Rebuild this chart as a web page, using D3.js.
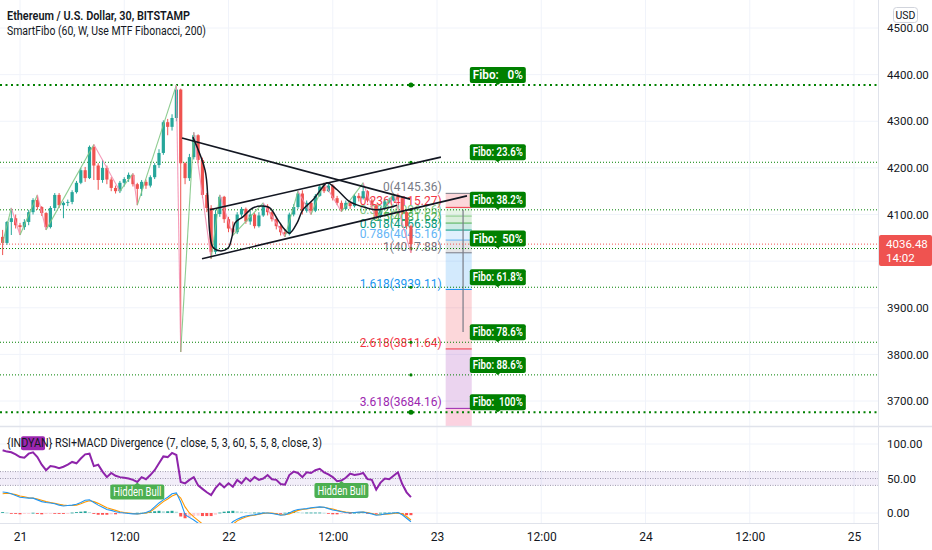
<!DOCTYPE html>
<html>
<head>
<meta charset="utf-8">
<script src="https://cdn.jsdelivr.net/npm/d3@7"></script>
<style>
  body { margin: 0; background: #ffffff; }
  svg { display: block; font-family: "Liberation Sans Narrow", "Roboto", "Liberation Sans", sans-serif; }
  text { white-space: pre; }
</style>
</head>
<body>
<div id="wrapper"></div>
<script>
// ETH/USD 30 min bars from Bitstamp, first bar = 20 Dec 22:00 UTC
const barStart = Date.UTC(2021, 11, 20, 22, 0);
const firstOpen = 4052;
const closes = [4039, 4084, 4092, 4077, 4073, 4084, 4105, 4131, 4116, 4103,
    4073, 4114, 4142, 4120, 4125, 4127, 4148, 4168, 4195, 4178,
    4245, 4205, 4174, 4200, 4175, 4157, 4150, 4168, 4176, 4185,
    4165, 4155, 4170, 4162, 4180, 4206, 4232, 4298, 4288, 4307,
    4368, 4210, 4178, 4223, 4270, 4217, 4142, 4114, 4020, 4101,
    4138, 4090, 4070, 4062, 4100, 4112, 4085, 4100, 4075, 4098,
    4118, 4105, 4090, 4075, 4062, 4058, 4100, 4116, 4145, 4108,
    4125, 4108, 4140, 4160, 4150, 4162, 4135, 4125, 4112, 4125,
    4118, 4140, 4135, 4150, 4130, 4120, 4095, 4112, 4128, 4130,
    4142, 4135, 4105, 4075, 4036.48];
const highs = [4067, 4086, 4114, 4100, 4082, 4090, 4110, 4135, 4142, 4118,
    4105, 4118, 4146, 4146, 4128, 4132, 4152, 4172, 4200, 4202,
    4248, 4250, 4210, 4217, 4205, 4180, 4162, 4172, 4180, 4190,
    4188, 4168, 4174, 4175, 4184, 4210, 4240, 4302, 4305, 4315,
    4378, 4370, 4212, 4230, 4276, 4272, 4222, 4146, 4120, 4110,
    4142, 4140, 4095, 4085, 4105, 4116, 4115, 4108, 4103, 4105,
    4125, 4122, 4108, 4095, 4080, 4068, 4104, 4122, 4150, 4152,
    4130, 4128, 4144, 4164, 4168, 4166, 4165, 4140, 4130, 4130,
    4128, 4144, 4146, 4168, 4152, 4134, 4122, 4116, 4132, 4136,
    4145, 4145, 4138, 4108, 4078];
const lows = [4013, 4035, 4056, 4070, 4056, 4067, 4077, 4100, 4110, 4097,
    4067, 4070, 4108, 4114, 4092, 4118, 4122, 4145, 4165, 4170,
    4176, 4174, 4153, 4168, 4165, 4150, 4145, 4146, 4160, 4170,
    4160, 4120, 4140, 4155, 4158, 4176, 4200, 4228, 4270, 4280,
    4300, 3805, 4165, 4172, 4218, 4210, 4135, 4105, 4005, 4015,
    4095, 4082, 4062, 4055, 4058, 4095, 4080, 4078, 4070, 4072,
    4095, 4098, 4085, 4068, 4055, 4052, 4055, 4096, 4112, 4100,
    4104, 4100, 4105, 4138, 4146, 4148, 4130, 4120, 4106, 4110,
    4112, 4115, 4128, 4132, 4126, 4115, 4090, 4092, 4110, 4124,
    4128, 4130, 4100, 4068, 4017.88];

// lower pane: RSI(7) and MACD(5, 8, 3)
const rsiValues = [91, 89, 88, 85, 81, 80, 86, 88, 81, 70,
    62, 68, 67, 65, 67, 70, 74, 72, 79, 85,
    86, 68, 70, 60, 52, 58, 54, 52, 51, 50,
    48, 45, 52, 49, 55, 62, 72, 82, 81, 87,
    84, 45, 43, 48, 52, 40, 35, 30, 26, 36,
    43, 37, 43, 38, 48, 43, 51, 46, 52, 48,
    50, 55, 49, 48, 42, 41, 55, 60, 58, 52,
    59, 58, 62, 64, 59, 56, 52, 46, 47, 51,
    57, 55, 56, 58, 49, 48, 34, 44, 50, 49,
    54, 59, 42, 30, 23];
const macdValues = [24, 23.5, 22, 20, 18, 17.5, 17, 17, 15, 13,
    12, 11.5, 10.5, 9, 8, 8.5, 9, 10, 12, 14.5,
    15, 12, 9, 6.5, 4, 3, 1.5, 0.5, 0, -0.5,
    -1, -1, -0.5, 0.5, 2.5, 7, 11.5, 15, 18, 22,
    23, 12.6, -2, -5, -8, -11.5, -16, -20, -24, -25,
    -23, -20, -15, -10, -7, -5, -3.5, -2.5, -2, -1,
    0, 0, -0.5, -1.5, -2.5, -2, 0, 2.5, 4, 4.5,
    5, 6, 6.5, 7, 6.5, 5, 3.5, 2.5, 1.5, 0.5,
    0, 0.5, 1, 1, 0, -1, -2.5, -2, -1, -0.5,
    0, 0.5, -2, -6, -10];
const signalValues = [22, 22.5, 22, 21, 19.5, 18.5, 17.5, 17, 16, 14.5,
    13, 12, 11, 10, 9, 8.5, 8.5, 9, 10.5, 12.5,
    14, 13, 11, 8.5, 6, 4.5, 3, 1.5, 0.5, 0,
    -0.5, -1, -0.5, 0, 1.5, 5, 9, 13, 16, 19.5,
    21.5, 17, 7, 0, -4.5, -8.5, -12.5, -16.5, -20.5, -23,
    -23.5, -21.5, -17.5, -13, -9, -6.5, -4.5, -3, -2.5, -1.5,
    -0.5, 0, 0, -1, -2, -2, -1, 1, 3, 4,
    4.5, 5.5, 6, 6.5, 6.5, 5.5, 4.5, 3, 2, 1,
    0.5, 0.5, 0.5, 1, 0.5, -0.5, -2, -2, -1.5, -1,
    -0.5, 0, -1, -4, -8];
const histValues = [1, 0.5, -0.5, -1, -1.5, -1, -0.5, 0.3, -1, -1.5,
    -1, -0.5, -0.5, -1, -1, -0.3, 0.5, 1, 1.5, 2,
    1, -1, -2, -2, -2, -1.5, -1.5, -1, -0.5, -0.5,
    -0.5, 0.3, 0.3, 0.5, 1, 2, 2.5, 2, 2, 2.5,
    1.5, -4, -6, -5, -3.5, -3, -3.5, -3.5, -3.5, -2,
    0.5, 1.5, 2, 2.5, 2, 1.5, 1, 0.5, 0.5, 0.5,
    0.5, 0.3, -0.5, -0.5, -0.5, 0.3, 1, 1.5, 1, 0.5,
    0.5, 0.5, 0.5, 0.5, 0.3, -0.5, -1.5, -1.5, -1, -0.5,
    -0.5, 0.3, 0.5, 0.3, -0.5, -0.5, -0.5, 0.3, 0.5, 0.5,
    0.5, 0.5, -1, -2.5, -2.5];
const divergenceLabels = [{ bar: 31, text: "Hidden Bull" }, { bar: 78, text: "Hidden Bull" }];
const bearLabelBar = 7;

// drawings: [bar index, price]
const zigzagPivots = [[0, 4039], [2, 4114], [4, 4056], [8, 4142], [10, 4067], [21, 4250], [27, 4150],
    [30, 4188], [31, 4120], [40, 4378], [41, 3805], [44, 4276], [48, 4005], [50, 4142], [53, 4055],
    [60, 4125], [65, 4052], [68, 4150], [71, 4100], [74, 4168], [78, 4106], [83, 4168], [86, 4090],
    [90, 4145], [94, 4018]];
const smoothCurve = [[43.8, 4266], [46.6, 4195], [47.3, 4125], [47.7, 4060], [48.4, 4030], [50.0, 4022],
    [51.9, 4028], [52.8, 4052], [53.5, 4082], [55.3, 4095], [57.6, 4114], [59.9, 4118], [61.5, 4114],
    [63.4, 4088], [65.0, 4067], [66.1, 4060], [67.8, 4082], [69.1, 4110], [71.4, 4131], [73.7, 4159],
    [74.7, 4168], [77, 4153], [80, 4127], [83.9, 4114], [86.2, 4110], [88.5, 4114], [90.8, 4120]];
const trendLines = [[[41.3, 4264], [93.8, 4133]], [[47.7, 4110], [100.9, 4223]], [[45.9, 4005], [106.9, 4140]]];

// fib retracement drawing
const fibRatios = ["0", "0.236", "0.382", "0.5", "0.618", "0.786", "1", "1.618", "2.618", "3.618", "4.236"];
const fibPrices = [4145.36, 4115.27, 4096.66, 4081.62, 4066.58, 4045.16, 4017.88, 3939.11, 3811.64, 3684.16, 3605.36];
const fibColors = ["#787b86", "#f23645", "#81c784", "#4caf50", "#089981", "#64b5f6", "#787b86", "#2196f3", "#f23645", "#9c27b0", "#e91e63"];
const fibBars = [102, 108];
const fibTrend = [[106, 4110], [106, 3848]];

// SmartFibo weekly levels
const smartFiboPrices = [4378, 4212, 4110, 4027, 3944, 3826, 3756, 3676];
const smartFiboLabels = ["Fibo:   0%", "Fibo: 23.6%", "Fibo: 38.2%", "Fibo:  50%", "Fibo: 61.8%", "Fibo: 78.6%", "Fibo: 88.6%", "Fibo:  100%"];
const smartFiboLabelBar = 114;

const gridPrices = [3700, 3800, 3900, 4000, 4100, 4200, 4300, 4400, 4500];
const priceTicks = [3700, 3800, 3900, 4100, 4200, 4300, 4400, 4500];
const rsiTicks = [0, 50, 100];
const rsiBand = [40, 50, 60];
const timeTicks = [Date.UTC(2021, 11, 21, 0), Date.UTC(2021, 11, 21, 12), Date.UTC(2021, 11, 22, 0),
    Date.UTC(2021, 11, 22, 12), Date.UTC(2021, 11, 23, 0), Date.UTC(2021, 11, 23, 12),
    Date.UTC(2021, 11, 24, 0), Date.UTC(2021, 11, 24, 12), Date.UTC(2021, 11, 25, 0)];
const lastPrice = 4036.48;
const barCountdown = "14:02";

function buildChart() {
    const dimension = {
        width: 932, height: 550,
        plotRight: 878, mainBottom: 426, subTop: 427, subBottom: 523
    };
    const up = "#26a69a", down = "#ef5350", ink = "#131722", fiboGreen = "#008000";

    const svg = d3.select("#wrapper").append("svg")
        .attr("width", dimension.width)
        .attr("height", dimension.height);

    const barTime = i => new Date(barStart + i * 1800000);
    const xScaler = d3.scaleUtc()
        .domain([new Date(timeTicks[0]), new Date(timeTicks[timeTicks.length - 1])])
        .range([20, 854]);
    const xBar = i => xScaler(barTime(i));
    const yScaler = d3.scaleLinear().domain([3700, 4500]).range([401, 28]);
    const rsiScaler = d3.scaleLinear().domain([0, 100]).range([513, 444]);
    const macdScaler = d3.scaleLinear().domain([0, 24]).range([513, 492]);

    const defs = svg.append("defs");
    defs.append("clipPath").attr("id", "clipMain").append("rect")
        .attr("x", 0).attr("y", 0).attr("width", dimension.plotRight).attr("height", dimension.mainBottom);
    defs.append("clipPath").attr("id", "clipSub").append("rect")
        .attr("x", 0).attr("y", dimension.subTop)
        .attr("width", dimension.plotRight).attr("height", dimension.subBottom - dimension.subTop);

    // grid
    svg.append("g").selectAll("line").data(timeTicks).join("line")
        .attr("x1", d => xScaler(new Date(d))).attr("x2", d => xScaler(new Date(d)))
        .attr("y1", 0).attr("y2", dimension.subBottom)
        .attr("stroke", "#f0f3fa");
    svg.append("g").selectAll("line").data(gridPrices).join("line")
        .attr("x1", 0).attr("x2", dimension.plotRight)
        .attr("y1", d => yScaler(d)).attr("y2", d => yScaler(d))
        .attr("stroke", "#f0f3fa");

    const main = svg.append("g").attr("clip-path", "url(#clipMain)");

    // fib retracement tool
    const fx0 = xBar(fibBars[0]), fx1 = xBar(fibBars[1]);
    main.append("g").selectAll("rect").data(fibPrices.slice(1)).join("rect")
        .attr("x", fx0).attr("width", fx1 - fx0)
        .attr("y", (d, k) => yScaler(fibPrices[k]))
        .attr("height", (d, k) => yScaler(d) - yScaler(fibPrices[k]))
        .attr("fill", (d, k) => fibColors[k + 1]).attr("fill-opacity", 0.2);
    main.append("g").selectAll("line").data(fibPrices).join("line")
        .attr("x1", fx0).attr("x2", fx1)
        .attr("y1", d => yScaler(d)).attr("y2", d => yScaler(d))
        .attr("stroke", (d, k) => fibColors[k]).attr("stroke-width", 1);
    main.append("g").selectAll("text").data(fibPrices).join("text")
        .attr("x", fx0 - 4).attr("y", d => yScaler(d) - 2)
        .attr("text-anchor", "end").attr("font-size", 12)
        .attr("fill", (d, k) => fibColors[k])
        .text((d, k) => `${fibRatios[k]}(${d.toFixed(2)})`);
    main.append("line")
        .attr("x1", xBar(fibTrend[0][0])).attr("x2", xBar(fibTrend[1][0]))
        .attr("y1", yScaler(fibTrend[0][1])).attr("y2", yScaler(fibTrend[1][1]))
        .attr("stroke", "#787b86").attr("stroke-width", 1.2);

    // SmartFibo dotted levels
    main.append("g").selectAll("line").data(smartFiboPrices).join("line")
        .attr("x1", 0).attr("x2", dimension.plotRight)
        .attr("y1", d => yScaler(d)).attr("y2", d => yScaler(d))
        .attr("stroke", fiboGreen)
        .attr("stroke-width", (d, k) => (k === 0 || k === smartFiboPrices.length - 1) ? 2 : 1)
        .attr("stroke-dasharray", (d, k) => (k === 0 || k === smartFiboPrices.length - 1) ? "2,3.5" : "1,2");
    main.append("g").selectAll("circle").data(smartFiboPrices).join("circle")
        .attr("cx", xBar(closes.length - 1)).attr("cy", d => yScaler(d))
        .attr("r", (d, k) => (k === 0 || k === smartFiboPrices.length - 1) ? 2.5 : 1.6)
        .attr("fill", fiboGreen);

    // last price line
    main.append("line")
        .attr("x1", 0).attr("x2", dimension.plotRight)
        .attr("y1", yScaler(lastPrice)).attr("y2", yScaler(lastPrice))
        .attr("stroke", down).attr("stroke-dasharray", "1,2");

    // candles
    const bars = closes.map((c, i) => ({ i, o: i === 0 ? firstOpen : closes[i - 1], h: highs[i], l: lows[i], c }));
    const candle = main.append("g").selectAll("g").data(bars).join("g");
    candle.append("line")
        .attr("x1", d => xBar(d.i)).attr("x2", d => xBar(d.i))
        .attr("y1", d => yScaler(d.h)).attr("y2", d => yScaler(d.l))
        .attr("stroke", d => d.c >= d.o ? up : down).attr("stroke-width", 1);
    candle.append("rect")
        .attr("x", d => xBar(d.i) - 1.6).attr("width", 3.2)
        .attr("y", d => yScaler(Math.max(d.o, d.c)))
        .attr("height", d => Math.max(1, Math.abs(yScaler(d.o) - yScaler(d.c))))
        .attr("fill", d => d.c >= d.o ? up : down);

    // zigzag
    const zz = d3.pairs(zigzagPivots);
    main.append("g").selectAll("line").data(zz).join("line")
        .attr("x1", d => xBar(d[0][0])).attr("y1", d => yScaler(d[0][1]))
        .attr("x2", d => xBar(d[1][0])).attr("y2", d => yScaler(d[1][1]))
        .attr("stroke", d => d[1][1] > d[0][1] ? "#81c784" : "#f48fb1")
        .attr("stroke-width", 1.1).attr("stroke-opacity", 0.9);

    // smoothed black line
    const curveGen = d3.line()
        .x(d => xBar(d[0])).y(d => yScaler(d[1]))
        .curve(d3.curveCatmullRom.alpha(0.5));
    main.append("path").attr("d", curveGen(smoothCurve))
        .attr("fill", "none").attr("stroke", ink).attr("stroke-width", 1.5);

    // trend lines
    main.append("g").selectAll("line").data(trendLines).join("line")
        .attr("x1", d => xBar(d[0][0])).attr("y1", d => yScaler(d[0][1]))
        .attr("x2", d => xBar(d[1][0])).attr("y2", d => yScaler(d[1][1]))
        .attr("stroke", ink).attr("stroke-width", 1.6);

    // SmartFibo labels
    const lx = xBar(smartFiboLabelBar);
    const fl = main.append("g").selectAll("g").data(smartFiboPrices).join("g");
    const flText = fl.append("text")
        .attr("x", lx).attr("y", d => yScaler(d) - 6)
        .attr("text-anchor", "middle").attr("font-size", 12).attr("font-weight", 600)
        .attr("fill", "#ffffff")
        .text((d, k) => smartFiboLabels[k]);
    flText.each(function () {
        if (this.getComputedTextLength() > 50) d3.select(this).attr("textLength", 50).attr("lengthAdjust", "spacingAndGlyphs");
    });
    fl.insert("rect", "text")
        .attr("x", function () { return lx - Math.min(50, this.parentNode.querySelector("text").getComputedTextLength()) / 2 - 3; })
        .attr("width", function () { return Math.min(50, this.parentNode.querySelector("text").getComputedTextLength()) + 6; })
        .attr("y", d => yScaler(d) - 18).attr("height", 16).attr("rx", 2)
        .attr("fill", fiboGreen);
    fl.insert("path", "text")
        .attr("d", d => `M${lx - 3},${yScaler(d) - 2.5}L${lx},${yScaler(d)}L${lx + 3},${yScaler(d) - 2.5}Z`)
        .attr("fill", fiboGreen);

    // lower pane
    const sub = svg.append("g").attr("clip-path", "url(#clipSub)");
    sub.append("rect")
        .attr("x", 0).attr("width", dimension.plotRight)
        .attr("y", rsiScaler(rsiBand[2])).attr("height", rsiScaler(rsiBand[0]) - rsiScaler(rsiBand[2]))
        .attr("fill", "#7e57c2").attr("fill-opacity", 0.1);
    sub.append("g").selectAll("line").data(rsiBand).join("line")
        .attr("x1", 0).attr("x2", dimension.plotRight)
        .attr("y1", d => rsiScaler(d)).attr("y2", d => rsiScaler(d))
        .attr("stroke", "#9e9aae").attr("stroke-dasharray", "1,1.5");
    sub.append("g").selectAll("line").data([0, 100]).join("line")
        .attr("x1", 0).attr("x2", dimension.plotRight)
        .attr("y1", d => rsiScaler(d)).attr("y2", d => rsiScaler(d))
        .attr("stroke", "#f0f3fa");

    sub.append("g").selectAll("rect").data(histValues).join("rect")
        .attr("x", (d, i) => xBar(i) - 1.5).attr("width", 3)
        .attr("y", d => macdScaler(Math.max(0, d)))
        .attr("height", d => Math.max(0.8, Math.abs(macdScaler(d) - macdScaler(0))))
        .attr("fill", (d, i) => {
            const prev = i > 0 ? histValues[i - 1] : d;
            if (d >= 0) return d >= prev ? "#26a69a" : "#b2dfdb";
            return d <= prev ? "#ff5252" : "#ffcdd2";
        });
    const macdLine = d3.line().x((d, i) => xBar(i)).y(d => macdScaler(d));
    sub.append("path").attr("d", macdLine(signalValues))
        .attr("fill", "none").attr("stroke", "#ff9800").attr("stroke-width", 1.1);
    sub.append("path").attr("d", macdLine(macdValues))
        .attr("fill", "none").attr("stroke", "#2196f3").attr("stroke-width", 1.1);

    const rsiLine = d3.line().x((d, i) => xBar(i)).y(d => rsiScaler(d));
    sub.append("path").attr("d", rsiLine(rsiValues))
        .attr("fill", "none").attr("stroke", "#8e24aa").attr("stroke-width", 2);

    // bear label box behind the title
    const bx = xBar(bearLabelBar), by = rsiScaler(rsiValues[bearLabelBar]);
    sub.append("rect")
        .attr("x", bx - 12).attr("width", 24)
        .attr("y", by - 16).attr("height", 14).attr("rx", 2)
        .attr("fill", "#9c27b0");

    const dl = sub.append("g").selectAll("g").data(divergenceLabels).join("g");
    dl.append("path")
        .attr("d", d => {
            const x = xBar(d.bar), y = rsiScaler(rsiValues[d.bar]);
            return `M${x - 3},${y + 3}L${x},${y + 0.5}L${x + 3},${y + 3}Z`;
        })
        .attr("fill", "#4caf50");
    dl.append("rect")
        .attr("x", d => xBar(d.bar) - 27).attr("width", 54)
        .attr("y", d => rsiScaler(rsiValues[d.bar]) + 2.5).attr("height", 15).attr("rx", 2)
        .attr("fill", "#4caf50");
    dl.append("text")
        .attr("x", d => xBar(d.bar)).attr("y", d => rsiScaler(rsiValues[d.bar]) + 14)
        .attr("text-anchor", "middle").attr("font-size", 12).attr("fill", "#ffffff")
        .text(d => d.text)
        .attr("textLength", 48).attr("lengthAdjust", "spacingAndGlyphs");

    // pane borders
    svg.append("line").attr("x1", 0).attr("x2", dimension.width)
        .attr("y1", dimension.mainBottom + 0.5).attr("y2", dimension.mainBottom + 0.5)
        .attr("stroke", "#e0e3eb").attr("stroke-width", 1.5);
    svg.append("line").attr("x1", 0).attr("x2", dimension.plotRight)
        .attr("y1", dimension.subBottom + 0.5).attr("y2", dimension.subBottom + 0.5)
        .attr("stroke", "#e0e3eb");
    svg.append("line").attr("x1", dimension.plotRight + 0.5).attr("x2", dimension.plotRight + 0.5)
        .attr("y1", 0).attr("y2", dimension.height)
        .attr("stroke", "#e0e3eb");

    // titles
    svg.append("text").attr("x", 7).attr("y", 20)
        .attr("font-size", 13).attr("font-weight", 600).attr("fill", ink)
        .text("Ethereum / U.S. Dollar, 30, BITSTAMP")
        .attr("textLength", 183).attr("lengthAdjust", "spacingAndGlyphs");
    svg.append("text").attr("x", 7).attr("y", 35)
        .attr("font-size", 12.5).attr("fill", ink)
        .text("SmartFibo (60, W, Use MTF Fibonacci, 200)")
        .attr("textLength", 199).attr("lengthAdjust", "spacingAndGlyphs");
    svg.append("text").attr("x", 7).attr("y", 447)
        .attr("font-size", 12.5).attr("fill", ink)
        .text("{INDYAN} RSI+MACD Divergence (7, close, 5, 3, 60, 5, 5, 8, close, 3)")
        .attr("textLength", 315).attr("lengthAdjust", "spacingAndGlyphs");

    // price axis
    const yAxis = d3.axisRight(yScaler).tickValues(priceTicks).tickSize(0).tickPadding(9)
        .tickFormat(d3.format(".2f"));
    svg.append("g").attr("transform", `translate(${dimension.plotRight},0)`)
        .call(yAxis)
        .call(g => g.select(".domain").remove())
        .attr("font-family", null).attr("font-size", 11.5)
        .selectAll("text").attr("fill", ink);

    const rsiAxis = d3.axisRight(rsiScaler).tickValues(rsiTicks).tickSize(0).tickPadding(9)
        .tickFormat(d3.format(".2f"));
    svg.append("g").attr("transform", `translate(${dimension.plotRight},0)`)
        .call(rsiAxis)
        .call(g => g.select(".domain").remove())
        .attr("font-family", null).attr("font-size", 11.5)
        .selectAll("text").attr("fill", ink);

    // time axis
    const xAxis = d3.axisBottom(xScaler)
        .tickValues(timeTicks.map(d => new Date(d)))
        .tickSize(0).tickPadding(9)
        .tickFormat(d => d.getUTCHours() === 0 ? d3.utcFormat("%-d")(d) : d3.utcFormat("%H:%M")(d));
    svg.append("g").attr("transform", `translate(0,${dimension.subBottom})`)
        .call(xAxis)
        .call(g => g.select(".domain").remove())
        .attr("font-family", null).attr("font-size", 12)
        .selectAll("text").attr("fill", ink);

    // USD badge
    svg.append("rect").attr("x", 893.5).attr("y", 7.5).attr("width", 24).attr("height", 15).attr("rx", 3)
        .attr("fill", "#ffffff").attr("stroke", "#d1d4dc");
    svg.append("text").attr("x", 905.5).attr("y", 19).attr("text-anchor", "middle")
        .attr("font-size", 10.5).attr("fill", ink).text("USD");

    // last price badge
    const py = yScaler(lastPrice);
    svg.append("rect").attr("x", dimension.plotRight + 1).attr("y", py - 9)
        .attr("width", dimension.width - dimension.plotRight - 1).attr("height", 31).attr("rx", 2)
        .attr("fill", down);
    svg.append("text").attr("x", 886).attr("y", py + 4).attr("font-size", 11.5)
        .attr("fill", "#ffffff").text(d3.format(".2f")(lastPrice));
    svg.append("text").attr("x", 886).attr("y", py + 18).attr("font-size", 11.5)
        .attr("fill", "#ffffff").text(barCountdown);
}

buildChart();
</script>
</body>
</html>
